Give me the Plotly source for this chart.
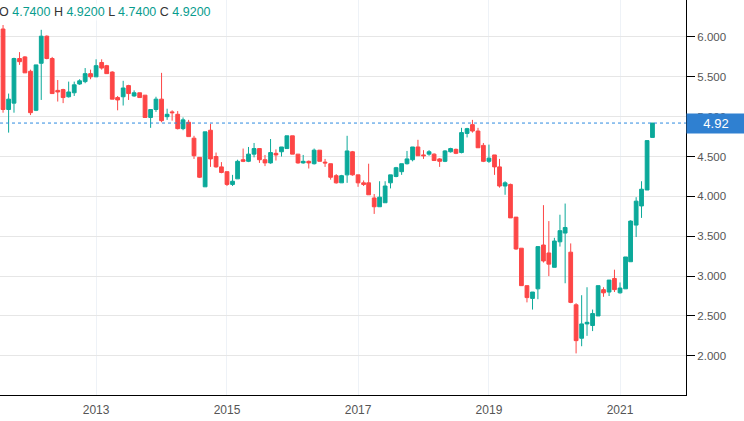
import pandas as pd
import plotly.graph_objs as go

# monthly candles, Jul 2011 .. Jul 2021
months = pd.date_range("2011-07-01", periods=121, freq="MS")

opens = [6.35, 6.10, 5.09, 5.17, 5.73, 5.75, 5.57, 5.08, 5.67, 6.01, 5.73, 5.33, 5.34, 5.25, 5.30, 5.41, 5.44, 5.54,
         5.50, 5.68, 5.64, 5.56, 5.24, 5.25, 5.39, 5.26, 5.30, 5.27, 4.99, 5.09,
         5.22, 5.00, 5.06, 5.03, 4.85, 4.93, 4.73, 4.49, 4.12, 4.83, 4.50, 4.37,
         4.31, 4.15, 4.22, 4.46, 4.44, 4.53, 4.60, 4.46, 4.42, 4.54, 4.56, 4.60,
         4.76, 4.53, 4.42, 4.44, 4.41, 4.58, 4.43, 4.41, 4.26, 4.17, 4.27, 4.56,
         4.27, 4.17, 4.17, 3.98, 3.87, 3.92, 4.17, 4.25, 4.31, 4.41, 4.46, 4.62,
         4.52, 4.53, 4.53, 4.47, 4.44, 4.56, 4.59, 4.55, 4.79, 4.90, 4.82, 4.64,
         4.44, 4.52, 4.37, 4.13, 4.15, 3.74, 3.35, 2.88, 2.72, 2.84, 3.39, 3.29,
         3.11, 3.43, 3.54, 3.30, 2.64, 2.22, 2.40, 2.38, 2.50, 2.83, 2.80, 2.97,
         2.79, 2.84, 3.18, 3.64, 3.88, 4.08, 4.74]
highs = [6.40, 6.15, 5.29, 5.74, 5.81, 5.76, 5.59, 5.65, 6.09, 6.02, 5.75, 5.46, 5.35, 5.44, 5.44, 5.47, 5.61, 5.59,
         5.72, 5.72, 5.65, 5.57, 5.26, 5.45, 5.40, 5.33, 5.30, 5.27, 5.09, 5.25,
         5.55, 5.10, 5.08, 5.07, 4.99, 4.96, 4.76, 4.49, 4.81, 4.91, 4.55, 4.43,
         4.31, 4.27, 4.46, 4.60, 4.62, 4.67, 4.60, 4.52, 4.72, 4.59, 4.62, 4.76,
         4.76, 4.53, 4.52, 4.45, 4.60, 4.58, 4.47, 4.41, 4.28, 4.27, 4.76, 4.57,
         4.27, 4.20, 4.41, 4.03, 4.19, 4.19, 4.27, 4.37, 4.41, 4.57, 4.62, 4.71,
         4.58, 4.58, 4.54, 4.48, 4.58, 4.61, 4.60, 4.86, 4.86, 4.96, 4.86, 4.67,
         4.65, 4.52, 4.47, 4.19, 4.16, 3.74, 3.35, 2.88, 2.80, 3.37, 3.89, 3.69,
         3.48, 3.77, 3.91, 3.41, 2.66, 2.76, 2.86, 2.58, 2.88, 2.86, 2.95, 3.08,
         2.92, 3.24, 3.70, 3.99, 4.19, 4.70, 4.92]
lows = [6.15, 5.05, 4.80, 5.05, 5.65, 5.55, 5.02, 5.07, 5.21, 5.72, 5.29, 5.19, 5.17, 5.24, 5.26, 5.40, 5.42, 5.47,
        5.50, 5.59, 5.54, 5.22, 5.08, 5.14, 5.21, 5.25, 5.24, 4.99, 4.86, 5.06,
        4.93, 4.96, 4.95, 4.84, 4.83, 4.75, 4.47, 4.23, 4.12, 4.37, 4.36, 4.29,
        4.13, 4.13, 4.22, 4.43, 4.43, 4.49, 4.42, 4.38, 4.41, 4.45, 4.50, 4.60,
        4.53, 4.41, 4.41, 4.35, 4.40, 4.44, 4.37, 4.21, 4.16, 4.17, 4.17, 4.26,
        4.12, 4.13, 4.02, 3.78, 3.87, 3.92, 4.10, 4.24, 4.27, 4.40, 4.44, 4.51,
        4.47, 4.51, 4.45, 4.37, 4.43, 4.55, 4.53, 4.54, 4.74, 4.80, 4.61, 4.43,
        4.42, 4.27, 4.11, 4.02, 3.73, 3.33, 2.88, 2.67, 2.58, 2.71, 3.17, 3.00,
        3.11, 3.37, 2.91, 2.66, 2.03, 2.12, 2.25, 2.31, 2.50, 2.74, 2.75, 2.80,
        2.78, 2.84, 3.18, 3.49, 3.73, 4.08, 4.74]
closes = [6.19, 5.09, 5.22, 5.73, 5.69, 5.55, 5.05, 5.65, 6.01, 5.73, 5.29, 5.31, 5.24, 5.31, 5.40, 5.45, 5.54, 5.50,
          5.64, 5.61, 5.54, 5.22, 5.21, 5.36, 5.29, 5.30, 5.24, 4.99, 5.09, 5.22,
          4.95, 5.03, 5.05, 4.85, 4.96, 4.75, 4.51, 4.24, 4.81, 4.47, 4.37, 4.30,
          4.15, 4.19, 4.44, 4.44, 4.53, 4.60, 4.46, 4.42, 4.55, 4.52, 4.62, 4.76,
          4.53, 4.42, 4.44, 4.42, 4.58, 4.44, 4.42, 4.24, 4.17, 4.26, 4.57, 4.27,
          4.17, 4.15, 4.02, 3.87, 3.99, 4.13, 4.27, 4.36, 4.41, 4.47, 4.62, 4.51,
          4.51, 4.56, 4.45, 4.44, 4.57, 4.60, 4.54, 4.80, 4.85, 4.82, 4.61, 4.44,
          4.48, 4.37, 4.13, 4.17, 3.73, 3.34, 2.88, 2.73, 2.80, 3.37, 3.19, 3.15,
          3.44, 3.57, 3.61, 2.67, 2.19, 2.40, 2.42, 2.53, 2.88, 2.79, 2.95, 2.83,
          2.85, 3.24, 3.69, 3.94, 4.09, 4.70, 4.92]

year_ticks = ["2013-01-01", "2015-01-01", "2017-01-01", "2019-01-01", "2021-01-01"]
year_labels = ["2013", "2015", "2017", "2019", "2021"]
price_ticks = [2.0, 2.5, 3.0, 3.5, 4.0, 4.5, 5.0, 5.5, 6.0]

UP = "#0ba99a"
DOWN = "#fd4646"
last = closes[-1]

fig = go.Figure()
fig.add_trace(go.Candlestick(
    x=months, open=opens, high=highs, low=lows, close=closes,
    increasing=dict(line=dict(color=UP, width=1), fillcolor=UP),
    decreasing=dict(line=dict(color=DOWN, width=1), fillcolor=DOWN),
    whiskerwidth=0,
    hoverinfo="skip",
    showlegend=False
))

# last price line
fig.add_shape(type="line", xref="paper", x0=0, x1=1, yref="y", y0=last, y1=last,
              line=dict(color="#2d8ae0", width=1, dash="dot"))

# price label on the axis
fig.add_annotation(xref="paper", x=1, xanchor="left", yref="y", y=last, yanchor="middle",
                   text="%.2f" % last, showarrow=False, width=58, height=19, borderpad=0,
                   bgcolor="#2f80d1", font=dict(color="white", size=13))

# OHLC readout
val = "<span style='color:#089c8e'>%.4f</span>"
ohlc_text = ("O " + val % opens[-1] + " H " + val % highs[-1] +
             " L " + val % lows[-1] + " C " + val % closes[-1])
fig.add_annotation(xref="paper", yref="paper", x=0, y=1, xanchor="left", yanchor="top",
                   xshift=-3, yshift=-3, text=ohlc_text, showarrow=False,
                   font=dict(color="#333333", size=12.5), bgcolor="rgba(255,255,255,0.6)")

fig.update_layout(
    width=744, height=421,
    margin=dict(l=0, r=58, t=0, b=26),
    paper_bgcolor="white", plot_bgcolor="white",
    font=dict(family="Liberation Sans, Arial, sans-serif", size=12, color="#555555"),
    boxgap=0.25, boxgroupgap=0,
    xaxis=dict(
        type="date", range=["2011-07-15", "2022-01-04"],
        rangeslider=dict(visible=False),
        tickvals=year_ticks, ticktext=year_labels,
        tickfont=dict(size=12),
        showgrid=True, gridcolor="#eef2f7", gridwidth=1,
        showline=True, linecolor="black", linewidth=1,
        ticks="", ticklabelstandoff=4, zeroline=False
    ),
    yaxis=dict(
        side="right", range=[1.508, 6.464],
        tickvals=price_ticks, tickformat=".3f",
        tickfont=dict(size=11.5),
        showgrid=True, gridcolor="#e6e6e6", gridwidth=1,
        showline=True, linecolor="black", linewidth=1,
        ticks="outside", ticklen=8, tickcolor="black", zeroline=False
    )
)

# page body has an 8px default margin; drop it so the chart sits at the window corner
fig.write_html("out.html", config={"displayModeBar": False},
               post_script="document.body.style.margin='0';")
